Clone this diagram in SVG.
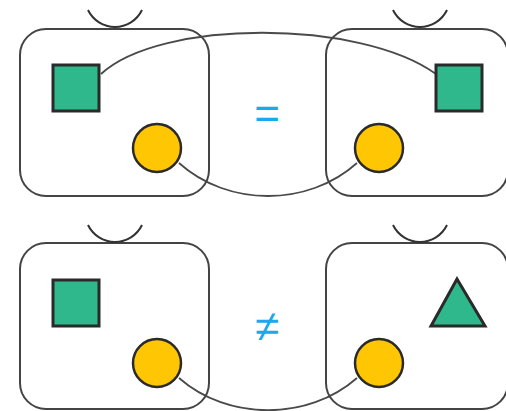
<svg xmlns="http://www.w3.org/2000/svg" width="506" height="411" viewBox="0 0 506 411">
<style>
.box{fill:none;stroke:#444;stroke-width:2}
.handle{fill:none;stroke:#333;stroke-width:2}
.sq{fill:#2fb88b;stroke:#2a2a2a;stroke-width:3}
.ci{fill:#ffc603;stroke:#2a2a2a;stroke-width:2.5}
.conn{fill:none;stroke:#4a4a4a;stroke-width:1.8}
.sym{font-family:"Liberation Sans",Arial,sans-serif;fill:#1aa8ee;text-anchor:middle}
</style>
<rect width="506" height="411" fill="#fff"/>
<g id="connectors">
<path class="conn" d="M101,74 C160,19 360,19 436,74"/>
<path class="conn" d="M179,163 C228,207 308,207 357,163"/>
<path class="conn" d="M179,378 C228,421 308,421 357,378"/>
</g>
<g id="box-top-left">
<rect class="box" x="20" y="29" width="189" height="167" rx="26"/>
<path class="handle" d="M88,10 A30,30 0 0 0 142,10"/>
<rect class="sq" x="53" y="65" width="46" height="46"/>
<circle class="ci" cx="157" cy="148" r="24"/>
</g>
<g id="box-top-right">
<rect class="box" x="326" y="29" width="182" height="167" rx="26"/>
<path class="handle" d="M393,10 A30,30 0 0 0 447,10"/>
<rect class="sq" x="436" y="65" width="46" height="46"/>
<circle class="ci" cx="379" cy="148" r="24"/>
</g>
<g id="box-bottom-left">
<rect class="box" x="20" y="243" width="189" height="166" rx="26"/>
<path class="handle" d="M88,225 A30,30 0 0 0 142,225"/>
<rect class="sq" x="53" y="280" width="46" height="46"/>
<circle class="ci" cx="157" cy="363" r="24"/>
</g>
<g id="box-bottom-right">
<rect class="box" x="326" y="243" width="182" height="166" rx="26"/>
<path class="handle" d="M393,225 A30,30 0 0 0 447,225"/>
<polygon class="sq" points="457,279 431,326 485,326" stroke-linejoin="miter"/>
<circle class="ci" cx="379" cy="363" r="24"/>
</g>
<g id="equals"><text class="sym" x="267" y="129" font-size="44">=</text></g>
<g id="not-equals"><text class="sym" x="267" y="341" font-size="44">≠</text></g>
</svg>
